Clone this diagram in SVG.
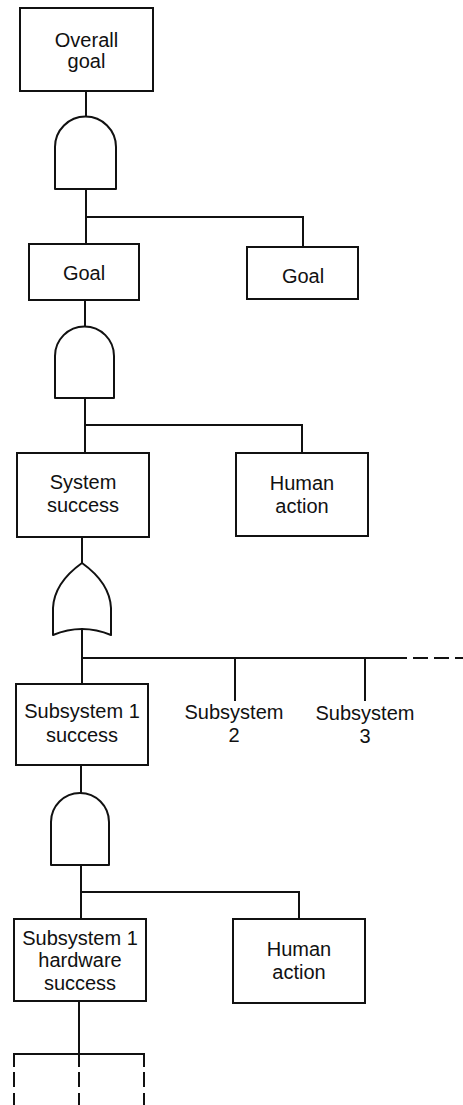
<svg xmlns="http://www.w3.org/2000/svg" width="463" height="1105" viewBox="0 0 463 1105">
  <style>
    .box { fill: #fff; stroke: #111; stroke-width: 2; }
    .gate { fill: #fff; stroke: #111; stroke-width: 2; stroke-linejoin: round; }
    .wire { fill: none; stroke: #111; stroke-width: 2; }
    .dash { fill: none; stroke: #111; stroke-width: 2; stroke-dasharray: 15 6; }
    .lbl { font-family: "Liberation Sans", Arial, sans-serif; font-size: 20px; fill: #111; text-anchor: middle; }
  </style>
  <rect width="463" height="1105" fill="#fff"/>

  <!-- connectors -->
  <g id="connectors">
    <path class="wire" d="M86,91 V117"/>
    <path class="wire" d="M86,189 V244 M86,217 H303 V247"/>
    <path class="wire" d="M85,300 V326"/>
    <path class="wire" d="M85,398 V453 M85,425 H302 V453"/>
    <path class="wire" d="M82,537 V563"/>
    <path class="wire" d="M82,629 V684 M82,658 H407 M235,658 V701 M365,658 V701"/>
    <path class="dash" d="M413,658 H463"/>
    <path class="wire" d="M81,765 V793"/>
    <path class="wire" d="M81,865 V919 M81,892 H299 V919"/>
    <path class="wire" d="M79,1001 V1054 M14,1067 V1054 H144 V1067 M79,1054 V1067"/>
    <path class="dash" d="M14,1072 V1105 M79,1072 V1105 M144,1072 V1105" stroke-dasharray="15 5"/>
  </g>

  <!-- gates -->
  <g id="and-gate-1">
    <path class="gate" d="M55,189 V147 A30.5,30.5 0 0 1 116,147 V189 Z"/>
  </g>
  <g id="and-gate-2">
    <path class="gate" d="M55,398 V356 A29.5,29.5 0 0 1 114,356 V398 Z"/>
  </g>
  <g id="or-gate">
    <path class="gate" d="M82,563 C68,573 54,588 53,608 L53,635 Q82,623 111,635 L111,608 C110,588 96,573 82,563 Z"/>
  </g>
  <g id="and-gate-3">
    <path class="gate" d="M51,865 V822 A29,29 0 0 1 109,822 V865 Z"/>
  </g>

  <!-- events -->
  <g id="overall-goal">
    <rect class="box" x="20" y="8" width="133" height="83"/>
    <text class="lbl" x="86.5" y="47">Overall</text>
    <text class="lbl" x="86.5" y="68">goal</text>
  </g>
  <g id="goal-left">
    <rect class="box" x="29" y="244" width="110" height="56"/>
    <text class="lbl" x="84" y="280">Goal</text>
  </g>
  <g id="goal-right">
    <rect class="box" x="247" y="247" width="111" height="52"/>
    <text class="lbl" x="303" y="283">Goal</text>
  </g>
  <g id="system-success">
    <rect class="box" x="17" y="453" width="132" height="84"/>
    <text class="lbl" x="83" y="489">System</text>
    <text class="lbl" x="83" y="512">success</text>
  </g>
  <g id="human-action-1">
    <rect class="box" x="236" y="453" width="132" height="83"/>
    <text class="lbl" x="302" y="490">Human</text>
    <text class="lbl" x="302" y="513">action</text>
  </g>
  <g id="subsystem-1-success">
    <rect class="box" x="16" y="684" width="132" height="81"/>
    <text class="lbl" x="82" y="718">Subsystem 1</text>
    <text class="lbl" x="82" y="742">success</text>
  </g>
  <g id="subsystem-2">
    <text class="lbl" x="234" y="719">Subsystem</text>
    <text class="lbl" x="234" y="742">2</text>
  </g>
  <g id="subsystem-3">
    <text class="lbl" x="365" y="720">Subsystem</text>
    <text class="lbl" x="365" y="743">3</text>
  </g>
  <g id="subsystem-1-hardware">
    <rect class="box" x="14" y="919" width="132" height="82"/>
    <text class="lbl" x="80" y="945">Subsystem 1</text>
    <text class="lbl" x="80" y="967">hardware</text>
    <text class="lbl" x="80" y="990">success</text>
  </g>
  <g id="human-action-2">
    <rect class="box" x="233" y="919" width="132" height="84"/>
    <text class="lbl" x="299" y="956">Human</text>
    <text class="lbl" x="299" y="979">action</text>
  </g>
</svg>
